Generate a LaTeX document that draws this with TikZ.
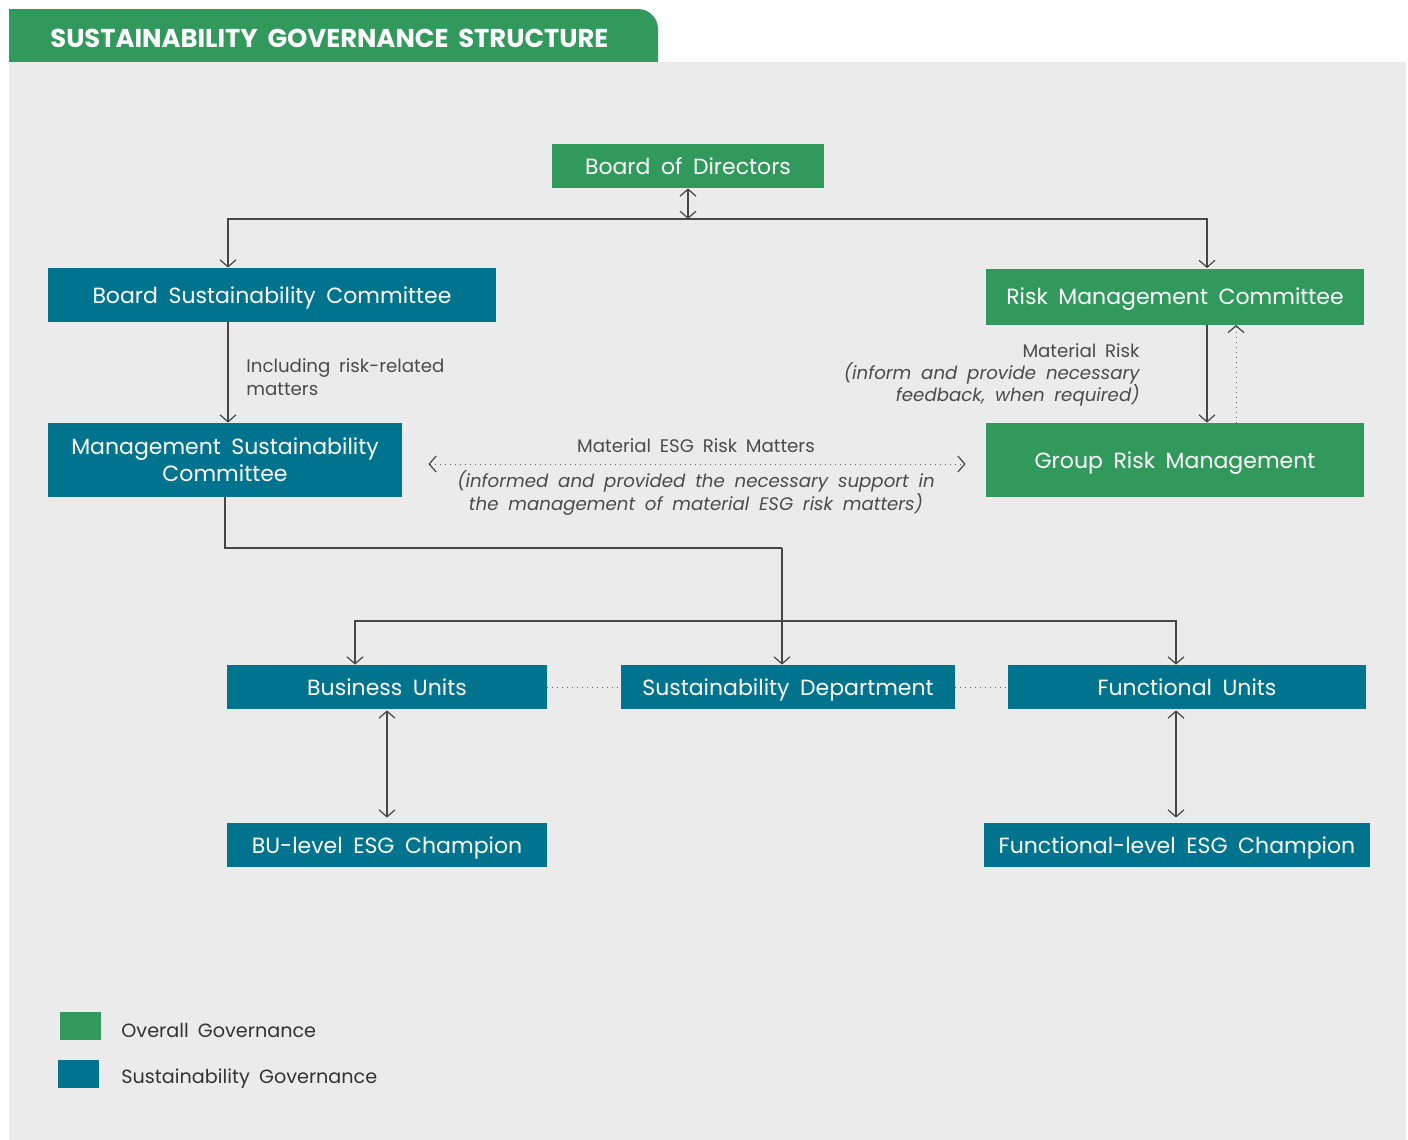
\documentclass[tikz,border=0pt]{standalone}
\usepackage{fontspec}
\setmainfont{Poppins}[WordSpace=1.8]
\usepackage{xcolor}
\usepackage{tikz}
\usetikzlibrary{arrows.meta, positioning}

\definecolor{govgreen}{RGB}{50,153,92}
\definecolor{susblue}{RGB}{0,115,143}
\definecolor{panelgray}{RGB}{235,235,235}
\definecolor{linegray}{RGB}{70,70,70}
\definecolor{labelgray}{RGB}{75,75,75}

\begin{document}
\begin{tikzpicture}[
        x=0.5pt, y=-0.5pt,
        box/.style={rectangle, inner sep=0pt, text=white, font=\fontsize{11}{13.5}\selectfont, align=center},
        oneline/.style={text height=8pt, text depth=0pt},
        greenbox/.style={box, fill=govgreen},
        bluebox/.style={box, fill=susblue},
        conn/.style={draw=linegray, line width=0.6pt, -{Straight Barb[length=3.5pt, width=8pt]}},
        dblconn/.style={draw=linegray, line width=0.6pt, {Straight Barb[length=3.5pt, width=8pt]}-{Straight Barb[length=3.5pt, width=8pt]}},
        line/.style={draw=linegray, line width=0.6pt},
        dotline/.style={draw=linegray!85, line width=0.5pt, dotted},
        dottip/.tip={Straight Barb[length=3.5pt, width=8pt, color=linegray, line width=0.6pt]},
        lbl/.style={text=labelgray, font=\fontsize{9.1}{11.2}\selectfont, inner sep=0pt},
        legendtext/.style={text=black!80, font=\fontsize{9.6}{12}\selectfont, inner sep=0pt, anchor=west}
    ]

    \useasboundingbox (0,0) rectangle (1408,1140);

    % Header tab and panel
    \fill[govgreen, rounded corners=10pt] (9,9) rectangle (658,90);
    \fill[govgreen] (9,9) rectangle (100,40);
    \fill[panelgray] (9,62) rectangle (1406,1140);
    \node[text=white, font=\fontsize{12.9}{15}\bfseries, anchor=west, inner sep=0pt] (title) at (50,38) {SUSTAINABILITY GOVERNANCE STRUCTURE};

    % Nodes
    \node[greenbox, oneline, minimum width=136pt, minimum height=22pt] (BoD) at (688,166) {Board of Directors};
    \node[bluebox, oneline, minimum width=224pt, minimum height=27pt] (BSC) at (272,295) {Board Sustainability Committee};
    \node[greenbox, oneline, minimum width=189pt, minimum height=28pt] (RMC) at (1175,296.5) {Risk Management Committee};
    \node[bluebox, minimum width=177pt, minimum height=37pt] (MSC) at (225,460) {Management Sustainability\\Committee};
    \node[greenbox, oneline, minimum width=189pt, minimum height=37pt] (GRM) at (1175,460) {Group Risk Management};
    \node[bluebox, oneline, minimum width=160pt, minimum height=22pt] (BU) at (387,687) {Business Units};
    \node[bluebox, oneline, minimum width=167pt, minimum height=22pt] (SD) at (788,687) {Sustainability Department};
    \node[bluebox, oneline, minimum width=179pt, minimum height=22pt] (FU) at (1187,687) {Functional Units};
    \node[bluebox, oneline, minimum width=160pt, minimum height=22pt] (BUC) at (387,845) {BU-level ESG Champion};
    \node[bluebox, oneline, minimum width=193pt, minimum height=22pt] (FUC) at (1177,845) {Functional-level ESG Champion};

    % Junction points
    \coordinate (boardjoin) at (688,219);
    \coordinate (mscdrop) at (782,548);
    \coordinate (unitfork) at (782,621);

    % Edges from the board
    \draw[dblconn] (BoD.south) -- (boardjoin);
    \draw[conn] (boardjoin) -| ([xshift=-22pt]BSC.north);
    \draw[conn] (boardjoin) -| ([xshift=16pt]RMC.north);
    \draw[conn] ([xshift=-22pt]BSC.south) -- ([xshift=1.5pt]MSC.north);
    \draw[conn] ([xshift=16pt]RMC.south) -- ([xshift=16pt]GRM.north);
    \draw[dotline, -dottip] ([xshift=30.5pt]GRM.north) -- ([xshift=30.5pt]RMC.south);
    \draw[dotline, dottip-dottip] ([xshift=13pt, yshift=-2pt]MSC.east) -- ([xshift=-10pt, yshift=-2pt]GRM.west);

    % Edges to the units
    \draw[line] (MSC.south) |- (mscdrop);
    \draw[conn] (mscdrop) -- (mscdrop |- SD.north);
    \draw[conn] (unitfork) -| ([xshift=-16pt]BU.north);
    \draw[conn] (unitfork) -| ([xshift=-5.5pt]FU.north);
    \draw[dotline] (BU.east) -- (SD.west);
    \draw[dotline] (SD.east) -- (FU.west);
    \draw[dblconn] ([yshift=-0.5pt]BU.south) -- ([yshift=2.5pt]BUC.north);
    \draw[dblconn] ([xshift=-5.5pt, yshift=-0.5pt]FU.south) -- ([xshift=-0.5pt, yshift=2.5pt]FUC.north);

    % Labels
    \node[lbl, anchor=west, align=left] (incl) at (246,377) {Including risk-related\\matters};
    \node[lbl, anchor=east, align=right] (matrisk) at (1140,375) {Material Risk\\\itshape (inform and provide necessary\\\itshape feedback, when required)};
    \node[lbl] (esgtop) at (696,446) {Material ESG Risk Matters};
    \node[lbl, align=center, font=\fontsize{9.1}{11.2}\itshape] (esgbot) at (696,493) {(informed and provided the necessary support in\\the management of material ESG risk matters)};

    % Legend
    \node[fill=govgreen, minimum width=20.5pt, minimum height=14pt, inner sep=0pt] (leggreen) at (80,1026) {};
    \node[fill=susblue, minimum width=20.5pt, minimum height=14pt, inner sep=0pt] (legblue) at (78,1074) {};
    \node[legendtext] (legoverall) at (121,1030) {Overall Governance};
    \node[legendtext] (legsus) at (121,1079) {Sustainability Governance};

\end{tikzpicture}
\end{document}
